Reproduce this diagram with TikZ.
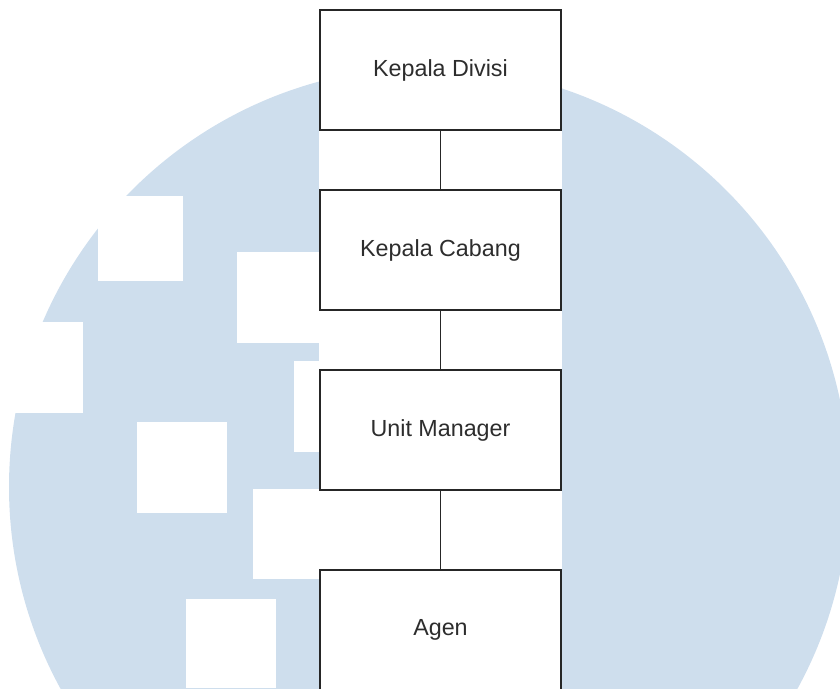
\documentclass[tikz,border=0pt]{standalone}
\usepackage{fontspec}
\setmainfont{Liberation Sans}
\definecolor{wmblue}{RGB}{206,222,237}
\definecolor{txtgray}{RGB}{45,45,45}
\begin{document}
\begin{tikzpicture}[x=1pt,y=-1pt,
  orgbox/.style={draw=black!85, line width=1.3pt, fill=white, minimum width=241pt, minimum height=120pt, inner sep=0pt, text=txtgray, font=\fontsize{23.3}{28}\selectfont},
  link/.style={draw=black!85, line width=1.6pt},
  cut/.style={fill=white, draw=none}]
\useasboundingbox (0,0) rectangle (840,688);
\begin{scope}
\clip (0,0) rectangle (840,688);
\fill[wmblue] (429,487) circle[radius=420];
\fill[cut] (98,196) rectangle (183,281);
\fill[cut] (237,252) rectangle (320,343);
\fill[cut] (0,322) rectangle (83,413);
\fill[cut] (294,361) rectangle (320,452);
\fill[cut] (137,422) rectangle (227,513);
\fill[cut] (253,489) rectangle (320,579);
\fill[cut] (186,599) rectangle (276,688);
\fill[cut] (319,0) rectangle (562,688);
\end{scope}
\node[orgbox] (kd) at (440.5,70) {Kepala Divisi};
\node[orgbox] (kc) at (440.5,250) {Kepala Cabang};
\node[orgbox] (um) at (440.5,430) {Unit Manager};
\node[orgbox] (ag) at (440.5,630) {Agen};
\draw[link] (kd.south) -- (kc.north);
\draw[link] (kc.south) -- (um.north);
\draw[link] (um.south) -- (ag.north);
\end{tikzpicture}
\end{document}
